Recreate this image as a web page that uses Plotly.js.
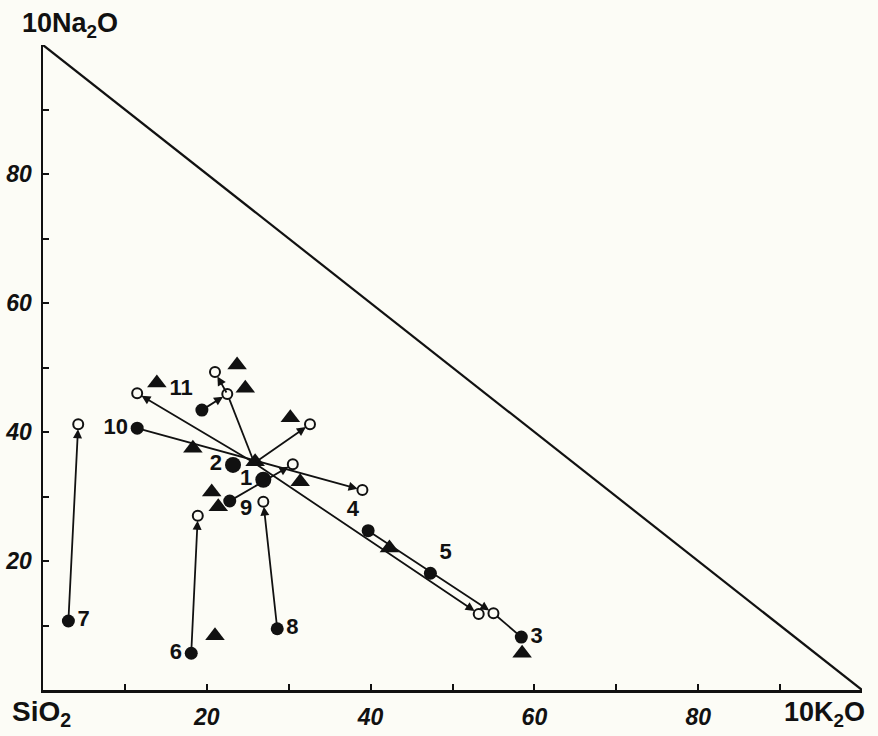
<!DOCTYPE html>
<html>
<head>
<meta charset="utf-8">
<script src="https://cdn.plot.ly/plotly-3.0.1.min.js"></script>
<style>
  html, body { margin: 0; padding: 0; background: #fcfcf6; }
  #chart { width: 878px; height: 736px; }
</style>
</head>
<body>
<div id="chart"></div>
<script>
// ---- data (10K2O on x, 10Na2O on y) ----
const filledLabels = ['1', '2', '3', '4', '5', '6', '7', '8', '9', '10', '11'];
const filledK2O  = [26.9, 23.2, 58.4, 39.7, 47.3, 18.1, 3.1, 28.6, 22.8, 11.5, 19.4];
const filledNa2O = [32.6, 34.9, 8.2, 24.7, 18.1, 5.7, 10.7, 9.5, 29.3, 40.6, 43.4];

const openK2O  = [4.3, 18.9, 26.9, 11.5, 21.0, 22.5, 32.6, 30.5, 39.0, 53.2, 55.0];
const openNa2O = [41.2, 27.0, 29.2, 46.0, 49.3, 45.9, 41.2, 35.0, 31.0, 11.8, 11.9];

const triK2O  = [13.9, 23.7, 24.7, 30.2, 18.3, 25.9, 31.4, 20.6, 21.4, 42.3, 21.0, 58.5];
const triNa2O = [47.6, 50.4, 46.8, 42.2, 37.5, 35.4, 32.3, 30.7, 28.4, 22.0, 8.4, 5.7];

// arrows: start -> end (head at end)
const arrowFromK2O  = [3.1, 18.1, 28.6, 11.5, 25.8, 25.8, 39.7, 19.4, 22.5, 25.8, 22.8];
const arrowFromNa2O = [10.7, 5.7, 9.5, 40.6, 35.2, 35.2, 24.7, 43.4, 45.9, 35.2, 29.3];
const arrowToK2O    = [4.3, 18.9, 26.9, 39.0, 11.5, 53.2, 55.0, 22.5, 21.0, 32.6, 30.5];
const arrowToNa2O   = [41.2, 27.0, 29.2, 31.0, 46.0, 11.8, 11.9, 45.9, 49.3, 41.2, 35.0];

// plain connecting lines
const lineFromK2O  = [58.4, 25.8];
const lineFromNa2O = [8.2, 35.2];
const lineToK2O    = [55.0, 22.5];
const lineToNa2O   = [11.9, 45.9];

// triangle diagram edge and ticks
const edgeK2O  = [0, 100];
const edgeNa2O = [100, 0];
const majorTicks = [20, 40, 60, 80];
const majorText = ['20', '40', '60', '80'];
const minorTicks = [10, 30, 50, 70, 90];

// ---- build ----
const INK = '#111111';
const BG = '#fcfcf6';
const LABEL_FONT = { family: 'Liberation Sans, Arial, sans-serif', size: 22, color: INK, weight: 700 };
const traces = [];

traces.push({
  x: edgeK2O, y: edgeNa2O, mode: 'lines', type: 'scatter',
  line: { color: INK, width: 2.2 }, hoverinfo: 'skip'
});

for (let i = 0; i < lineFromK2O.length; i++) {
  traces.push({
    x: [lineFromK2O[i], lineToK2O[i]], y: [lineFromNa2O[i], lineToNa2O[i]],
    mode: 'lines', type: 'scatter', line: { color: INK, width: 1.8 }, hoverinfo: 'skip'
  });
}

traces.push({
  x: triK2O, y: triNa2O, mode: 'markers', type: 'scatter',
  marker: { symbol: 'triangle-up', size: 17, color: INK, opacity: 1, line: { width: 0 } },
  cliponaxis: false
});

traces.push({
  x: openK2O, y: openNa2O, mode: 'markers', type: 'scatter',
  marker: { symbol: 'circle', size: 10, color: BG, opacity: 1, line: { color: INK, width: 2 } },
  cliponaxis: false
});

// label "9" is placed separately (slightly below-right of its dot)
const inlineLabels = filledLabels.map(l => l === '9' ? '' : l);
traces.push({
  x: filledK2O, y: filledNa2O, mode: 'markers+text', type: 'scatter',
  text: inlineLabels,
  textposition: ['middle left', 'middle left', 'middle right', 'top left', 'top right',
                 'middle left', 'middle right', 'middle right', 'middle right', 'middle left', 'top left'],
  textfont: LABEL_FONT,
  marker: { symbol: 'circle', color: INK, opacity: 1, line: { width: 0 },
            size: filledLabels.map(l => (l === '1' || l === '2') ? 16 : 13) },
  cliponaxis: false
});

const annotations = [];
for (let i = 0; i < arrowFromK2O.length; i++) {
  annotations.push({
    x: arrowToK2O[i], y: arrowToNa2O[i], ax: arrowFromK2O[i], ay: arrowFromNa2O[i],
    xref: 'x', yref: 'y', axref: 'x', ayref: 'y', text: '',
    showarrow: true, arrowhead: 2, arrowsize: 1, arrowwidth: 1.8, arrowcolor: INK,
    standoff: 5
  });
}

const i9 = filledLabels.indexOf('9');
annotations.push({
  x: filledK2O[i9], y: filledNa2O[i9], xref: 'x', yref: 'y', text: filledLabels[i9],
  showarrow: false, xanchor: 'left', yanchor: 'middle', xshift: 8, yshift: -6, font: LABEL_FONT
});

const cornerFont = { family: 'Liberation Sans, Arial, sans-serif', size: 27, color: INK, weight: 700 };
annotations.push({ xref: 'paper', yref: 'paper', x: 0.033, y: 1.031, xanchor: 'center', yanchor: 'middle',
  text: '10Na<sub>2</sub>O', showarrow: false, font: cornerFont });
annotations.push({ xref: 'paper', yref: 'paper', x: -0.002, y: -0.036, xanchor: 'center', yanchor: 'middle',
  text: 'SiO<sub>2</sub>', showarrow: false, font: Object.assign({}, cornerFont, { size: 28 }) });
annotations.push({ xref: 'paper', yref: 'paper', x: 0.954, y: -0.037, xanchor: 'center', yanchor: 'middle',
  text: '10K<sub>2</sub>O', showarrow: false, font: cornerFont });

const tickFont = { family: 'Liberation Sans, Arial, sans-serif', size: 23, color: INK, weight: 700, style: 'italic' };
const minorSpec = { tickvals: minorTicks, ticks: 'inside', ticklen: 6, tickwidth: 2, tickcolor: INK, showgrid: false };

const layout = {
  width: 878, height: 736,
  margin: { l: 43, r: 16, t: 45, b: 46 },
  paper_bgcolor: BG, plot_bgcolor: BG,
  showlegend: false,
  xaxis: {
    range: [0, 100], showgrid: false, zeroline: false,
    showline: true, linecolor: INK, linewidth: 2.5,
    ticks: 'inside', ticklen: 6, tickwidth: 2, tickcolor: INK,
    tickvals: majorTicks, ticktext: majorText, tickfont: tickFont,
    ticklabelstandoff: 5, minor: minorSpec
  },
  yaxis: {
    range: [0, 100], showgrid: false, zeroline: false,
    showline: true, linecolor: INK, linewidth: 2.5,
    ticks: 'inside', ticklen: 6, tickwidth: 2, tickcolor: INK,
    tickvals: majorTicks, ticktext: majorText, tickfont: tickFont,
    ticklabelstandoff: 4, minor: minorSpec
  },
  annotations: annotations
};

Plotly.newPlot('chart', traces, layout, { staticPlot: true, displayModeBar: false });
</script>
</body>
</html>
